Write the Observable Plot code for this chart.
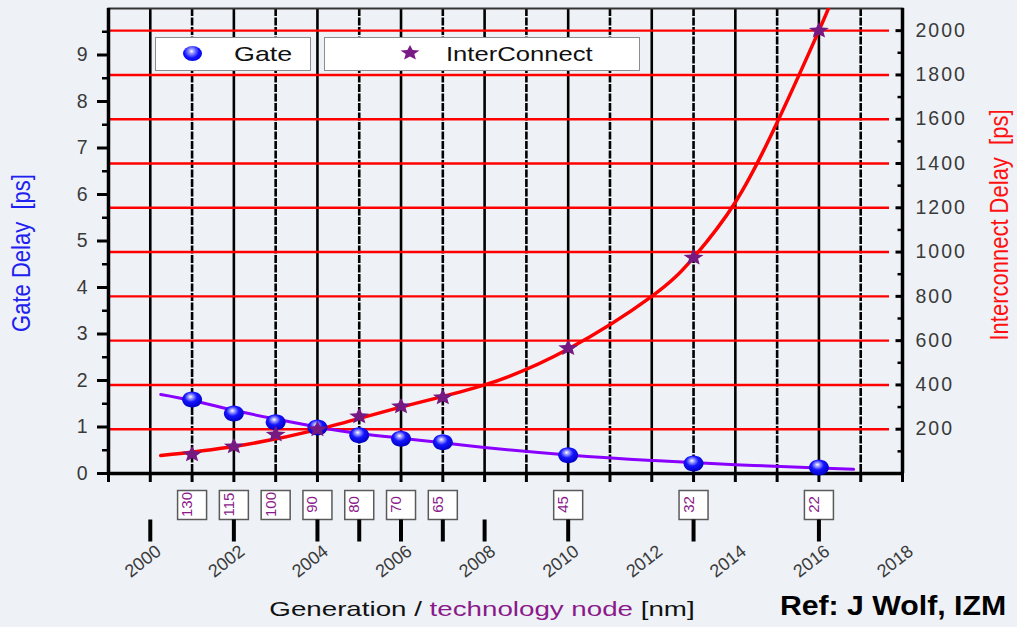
<!DOCTYPE html>
<html>
<head>
<meta charset="utf-8">
<script src="https://cdn.jsdelivr.net/npm/d3@7"></script>
<script src="https://cdn.jsdelivr.net/npm/@observablehq/plot@0.6"></script>
<style>
  html, body { margin: 0; padding: 0; background: #eef2f7; }
  body { font-family: "Liberation Sans", Arial, sans-serif; }
  #wrap { position: relative; width: 1017px; height: 627px; overflow: hidden; background: #eef2f7; }
  #chart { position: absolute; left: 0; top: 0; }
  .lbl { position: absolute; white-space: pre; line-height: 1; }
  .legbox { position: absolute; background: #fff; border: 1.5px solid #8c8c8c; box-sizing: border-box; }
</style>
</head>
<body>
<div id="wrap">
  <div id="chart"></div>
  <div class="legbox" style="left:155px;top:37px;width:156px;height:34px;"></div>
  <div style="position:absolute;left:183px;top:46px;width:19px;height:15px;border-radius:50%;background:radial-gradient(ellipse at 45% 35%, #ffffff 0%, #9090ff 18%, #1010ff 50%, #0000c8 100%);"></div>
  <div class="lbl" style="left:234px;top:43px;font-size:21px;color:#111;transform:scaleX(1.28);transform-origin:left center;">Gate</div>
  <div class="legbox" style="left:324px;top:37px;width:316px;height:34px;"></div>
  <svg style="position:absolute;left:400px;top:45px;" width="20" height="16" viewBox="-10 -8 20 16">
    <polygon id="legstar" fill="#7a1a86"></polygon>
  </svg>
  <div class="lbl" style="left:446px;top:43px;font-size:21px;color:#111;transform:scaleX(1.22);transform-origin:left center;">InterConnect</div>

  <div class="lbl" style="left:22px;top:253px;font-size:22px;color:#2020f0;transform:translate(-50%,-50%) rotate(-90deg) scaleY(1.2);">Gate Delay  [ps]</div>
  <div class="lbl" style="left:1000px;top:225px;font-size:22px;color:#ff1010;transform:translate(-50%,-50%) rotate(-90deg) scaleY(1.2);">Interconnect Delay  [ps]</div>
  <div class="lbl" style="left:482px;top:608px;font-size:21px;color:#111;transform:translate(-50%,-50%) scaleX(1.32);">Generation / <span style="color:#8a1a8a">technology node</span> [nm]</div>
  <div class="lbl" style="left:893px;top:606px;font-size:27px;font-weight:bold;color:#000;transform:translate(-50%,-50%) scaleX(1.12);">Ref: J Wolf, IZM</div>
</div>
<script>
// ---------------- data ----------------
const nodeYears = [2001, 2002, 2003, 2004, 2005, 2006, 2007, 2010, 2013, 2016];
const nodeLabels = ["130", "115", "100", "90", "80", "70", "65", "45", "32", "22"];
const gateDelay = [1.59, 1.29, 1.10, 0.99, 0.82, 0.75, 0.67, 0.39, 0.215, 0.13];           // ps (left axis)
const interconnectDelay = [86, 122, 176, 199, 258, 303, 344, 566, 975, 2000];             // ps (right axis)

const gateFitYears  = [2000.25, 2001, 2002, 2003, 2004, 2005, 2006, 2007, 2008, 2010, 2012, 2014, 2016, 2016.83];
const gateFitValues = [1.70, 1.57, 1.36, 1.17, 1.00, 0.86, 0.76, 0.66, 0.56, 0.40, 0.28, 0.19, 0.12, 0.09];

const icFitYears  = [2000.25, 2002, 2004, 2006, 2008, 2010, 2012, 2013, 2014, 2015, 2016, 2016.3];
const icFitValues = [81, 122, 198, 300, 400, 562, 800, 975, 1225, 1585, 2000, 2135];

const solidGridYears  = [2000, 2002, 2004, 2006, 2008, 2010, 2012, 2014, 2016];
const dottedGridYears = [2001, 2003, 2005, 2007, 2009, 2011, 2013, 2015, 2017];
const bottomTickYears = [1999, 2000, 2001, 2002, 2003, 2004, 2005, 2006, 2007, 2008, 2009, 2010, 2011, 2012, 2013, 2014, 2015, 2016, 2017, 2018];
const yearLabels = [2000, 2002, 2004, 2006, 2008, 2010, 2012, 2014, 2016, 2018];
const stubYears = [2000, 2002, 2004, 2005, 2006, 2007, 2008, 2010, 2013, 2016];

const gateTicks = [0, 1, 2, 3, 4, 5, 6, 7, 8, 9];
const gateMinorTicks = [0.5, 1.5, 2.5, 3.5, 4.5, 5.5, 6.5, 7.5, 8.5, 9.5];
const icTicks = [200, 400, 600, 800, 1000, 1200, 1400, 1600, 1800, 2000];
const icMinorTicks = [100, 300, 500, 700, 900, 1100, 1300, 1500, 1700, 1900];

// axis ratio: the right axis (0–2100 ps) shares the plot height with the left axis (0–10 ps)
const PS_PER_GATE_UNIT = 210;

// ---------------- tables ----------------
const gate = nodeYears.map((year, i) => ({year, value: gateDelay[i]}));
const ic = nodeYears.map((year, i) => ({year, value: interconnectDelay[i]}));
const nodes = nodeYears.map((year, i) => ({year, label: nodeLabels[i]}));
const gateFit = gateFitYears.map((year, i) => ({year, value: gateFitValues[i]}));
const icFit = icFitYears.map((year, i) => ({year, value: icFitValues[i]}));
const stubs = stubYears.map((year) => ({year}));

// ---------------- custom symbols ----------------
function ellipseSymbol(rx, ry) {
  return {draw(ctx) {
    const k = 0.5523;
    ctx.moveTo(rx, 0);
    ctx.bezierCurveTo(rx, ry * k, rx * k, ry, 0, ry);
    ctx.bezierCurveTo(-rx * k, ry, -rx, ry * k, -rx, 0);
    ctx.bezierCurveTo(-rx, -ry * k, -rx * k, -ry, 0, -ry);
    ctx.bezierCurveTo(rx * k, -ry, rx, -ry * k, rx, 0);
    ctx.closePath();
  }};
}
function starPoints(rx, ry, inner) {
  const pts = [];
  for (let i = 0; i < 10; i++) {
    const a = -Math.PI / 2 + i * Math.PI / 5;
    const f = i % 2 ? inner : 1;
    pts.push([Math.cos(a) * rx * f, Math.sin(a) * ry * f]);
  }
  return pts;
}
function starSymbol(rx, ry) {
  return {draw(ctx) {
    starPoints(rx, ry, 0.45).forEach(([px, py], i) => i ? ctx.lineTo(px, py) : ctx.moveTo(px, py));
    ctx.closePath();
  }};
}
function hlineLeft(len) { return {draw(ctx) { ctx.moveTo(-len, 0); ctx.lineTo(0, 0); }}; }
function rectAt(x0, y0, w, h) { return {draw(ctx) { ctx.rect(x0, y0, w, h); }}; }

document.getElementById("legstar").setAttribute("points", starPoints(10, 8, 0.45).map(p => p.join(",")).join(" "));

const toY = (d) => d.value / PS_PER_GATE_UNIT;

const chart = Plot.plot({
  width: 1017,
  height: 627,
  marginLeft: 108,
  marginRight: 115,
  marginTop: 8,
  marginBottom: 154,
  x: {domain: [1999, 2018], axis: null},
  y: {domain: [0, 10], axis: null},
  style: {background: "transparent", overflow: "visible", fontFamily: "'Liberation Sans', Arial, sans-serif"},
  marks: [
    // vertical grid
    Plot.ruleX(solidGridYears, {x: d => d, stroke: "#000", strokeWidth: 2.6}),
    Plot.ruleX(dottedGridYears, {x: d => d, stroke: "#000", strokeWidth: 2.6, strokeDasharray: "8,1.5"}),
    // red horizontal grid at the right-axis ticks
    Plot.ruleY(icTicks, {y: d => d / PS_PER_GATE_UNIT, stroke: "#ff0000", strokeWidth: 2.4, insetRight: 13}),
    // frame
    Plot.frame({stroke: "#333", strokeWidth: 2}),
    Plot.ruleY([0], {stroke: "#000", strokeWidth: 3.5}),
    Plot.ruleX([1999], {stroke: "#000", strokeWidth: 3.5}),
    Plot.ruleX([2018], {stroke: "#000", strokeWidth: 3.5}),
    // left axis
    Plot.axisY({anchor: "left", ticks: gateTicks, tickSize: 11, tickPadding: 8, strokeWidth: 3, stroke: "#000",
      fill: "#3a3a3a", fontSize: 19.5, tickFormat: d => String(d), label: null}),
    Plot.axisY({anchor: "left", ticks: gateMinorTicks, tickSize: 6, strokeWidth: 2.5, stroke: "#000", fill: "none", label: null}),
    // right axis
    Plot.axisY({anchor: "right", ticks: icTicks.map(v => v / PS_PER_GATE_UNIT), tickSize: 0, tickPadding: 13,
      fill: "#3a3a3a", fontSize: 19.5, tickFormat: d => String(Math.round(d * PS_PER_GATE_UNIT)), label: null}),
    Plot.dot(icTicks, {y: d => d / PS_PER_GATE_UNIT, frameAnchor: "right", symbol: hlineLeft(7), stroke: "#000", strokeWidth: 3, fill: "none"}),
    Plot.dot(icMinorTicks, {y: d => d / PS_PER_GATE_UNIT, frameAnchor: "right", symbol: hlineLeft(5), stroke: "#000", strokeWidth: 2.5, fill: "none"}),
    // bottom axis ticks
    Plot.axisX({anchor: "bottom", ticks: bottomTickYears, tickSize: 9, strokeWidth: 3, stroke: "#000", fill: "none", label: null}),
    // fit curves
    Plot.line(gateFit, {x: "year", y: "value", curve: "natural", stroke: "#8a00ff", strokeWidth: 3}),
    Plot.line(icFit, {x: "year", y: toY, curve: "natural", stroke: "#ff0000", strokeWidth: 3.5, clip: true}),
    // data points
    Plot.dot(gate, {x: "year", y: "value", symbol: ellipseSymbol(10, 8), fill: "url(#sphereGrad)", stroke: "none"}),
    Plot.dot(ic, {x: "year", y: toY, symbol: starSymbol(10.5, 8.5), fill: "#761a82", stroke: "none"}),
    // technology node boxes and the year axis below
    Plot.dot(nodes, {x: "year", frameAnchor: "bottom", symbol: rectAt(-14.5, 17, 29, 29), fill: "#fff", stroke: "#5a5a5a", strokeWidth: 1.5}),
    Plot.text(nodes, {x: "year", frameAnchor: "bottom", dy: 31, text: "label", rotate: -90, fill: "#8a1a8a", fontSize: 15}),
    Plot.text(yearLabels, {x: d => d, frameAnchor: "bottom", dy: 80, dx: 12, text: d => String(d), rotate: -38,
      textAnchor: "end", fontSize: 18, fill: "#3a3a3a"}),
    Plot.dot(stubs, {x: "year", frameAnchor: "bottom", symbol: rectAt(-2, 46, 4, 22), fill: "#000", stroke: "none"})
  ]
});

// sphere gradient for the gate markers
const svg = d3.select(chart);
svg.insert("defs", ":first-child").html(`
  <radialGradient id="sphereGrad" cx="0.45" cy="0.38" r="0.62" fx="0.42" fy="0.32">
    <stop offset="0" stop-color="#ffffff"/>
    <stop offset="0.2" stop-color="#9a9aff"/>
    <stop offset="0.5" stop-color="#1515ff"/>
    <stop offset="1" stop-color="#0000c0"/>
  </radialGradient>`);
svg.selectAll('g[aria-label="y-axis tick label"] text').style("letter-spacing", "2px");

document.getElementById("chart").appendChild(chart);
</script>
</body>
</html>
